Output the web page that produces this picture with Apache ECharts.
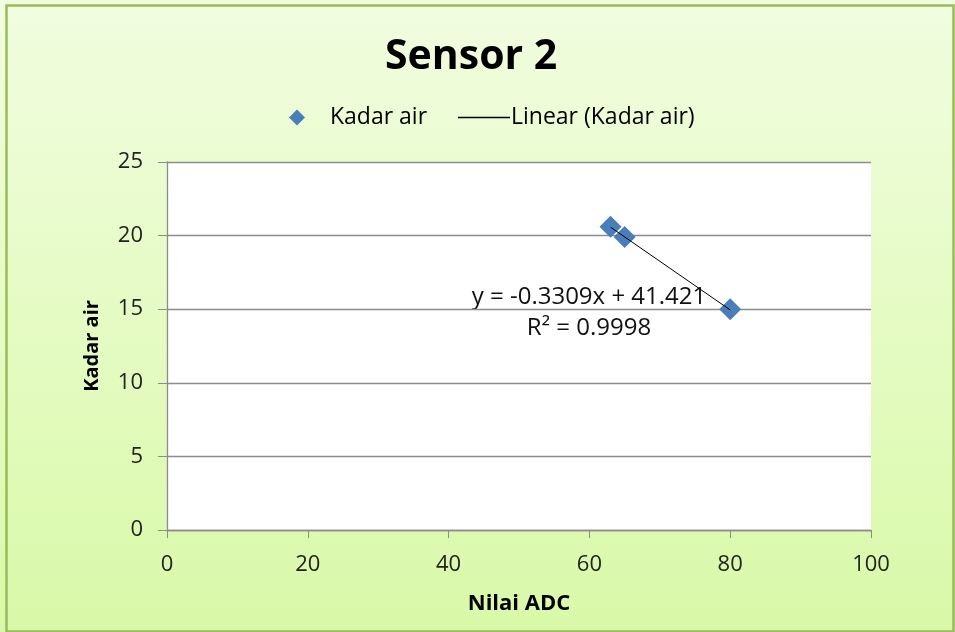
<!DOCTYPE html>
<html><head><meta charset="utf-8">
<script src="https://cdn.jsdelivr.net/npm/echarts@6/dist/echarts.min.js"></script>
<style>html,body{margin:0;padding:0;background:#fff}#c{width:955px;height:632px}</style>
</head><body><div id="c"></div>
<script>
const titleText = 'Sensor 2';
const seriesName = 'Kadar air';
const trendName = 'Linear (Kadar air)';
const xValues = [63, 65, 80];
const yValues = [20.6, 19.9, 15.0];
const trendSlope = -0.3309;
const trendIntercept = 41.421;
const rSquared = 0.9998;
const xTicks = [0, 20, 40, 60, 80, 100];
const yTicks = [0, 5, 10, 15, 20, 25];

const pts = xValues.map((x, i) => [x, yValues[i]]);
const xMin = Math.min(...xValues), xMax = Math.max(...xValues);
const trend = [[xMin, trendSlope * xMin + trendIntercept], [xMax, trendSlope * xMax + trendIntercept]];
const eqText = 'y = ' + trendSlope + 'x + ' + trendIntercept + '\nR² = ' + rSquared;

const chart = echarts.init(document.getElementById('c'));
const font = '"Open Sans", sans-serif';
chart.setOption({
  animation: false,
  backgroundColor: new echarts.graphic.LinearGradient(0, 0, 0, 1, [
    {offset: 0, color: '#f1fde0'}, {offset: 1, color: '#d9f9a8'}
  ]),
  title: {text: titleText, left: 385, top: 37, padding: 0,
    textStyle: {fontFamily: font, fontWeight: 'bold', fontSize: 41, color: '#000'}},
  legend: [
    {top: 106, left: 289, itemWidth: 16, itemHeight: 16, itemGap: 0, padding: 0,
      textStyle: {fontFamily: font, fontSize: 23, color: '#000', padding: [0, 0, 0, 20]},
      data: [{name: seriesName, icon: 'diamond'}]},
    {top: 106, left: 458, itemWidth: 52, itemHeight: 1.5, itemGap: 0, padding: 0,
      textStyle: {fontFamily: font, fontSize: 23, color: '#000', padding: [0, 0, 0, -4]},
      data: [{name: trendName, icon: 'rect'}]}
  ],
  grid: {left: 167, right: 84, top: 162, bottom: 102, show: true, backgroundColor: '#fff', borderWidth: 0},
  xAxis: {type: 'value', min: xTicks[0], max: xTicks[xTicks.length - 1], interval: 20,
    name: 'Nilai ADC', nameLocation: 'middle', nameGap: 63,
    nameTextStyle: {fontFamily: font, fontWeight: 'bold', fontSize: 22, color: '#000'},
    axisLine: {lineStyle: {color: '#8c8c8c', width: 1.3}},
    axisTick: {show: true, length: 8, lineStyle: {color: '#8c8c8c'}},
    axisLabel: {fontFamily: font, fontSize: 22, color: '#222', margin: 24},
    splitLine: {show: false}},
  yAxis: {type: 'value', min: yTicks[0], max: yTicks[yTicks.length - 1], interval: 5,
    name: 'Kadar air', nameLocation: 'middle', nameGap: 65, nameRotate: 90,
    nameTextStyle: {fontFamily: font, fontWeight: 'bold', fontSize: 20, color: '#000'},
    axisLine: {show: true, lineStyle: {color: '#8c8c8c', width: 1.3}},
    axisTick: {show: true, length: 9, lineStyle: {color: '#8c8c8c'}},
    axisLabel: {fontFamily: font, fontSize: 22, color: '#222', margin: 24},
    splitLine: {show: true, lineStyle: {color: '#8c8c8c', width: 1.3}}},
  series: [
    {name: seriesName, type: 'scatter', data: pts, symbol: 'diamond', symbolSize: [22, 22],
      itemStyle: {color: '#4a7ebb', opacity: 1}, z: 3},
    {name: trendName, type: 'line', data: trend, symbol: 'none', z: 4,
      lineStyle: {color: '#000', width: 1}, itemStyle: {color: '#000'}}
  ],
  graphic: [
    {type: 'rect', left: 4, top: 3, shape: {width: 947, height: 626},
      style: {fill: 'none', stroke: '#9bbb59', lineWidth: 2.5}, z: 100},
    {type: 'text', x: 589, y: 282,
      style: {text: eqText, align: 'center', textAlign: 'center', fontFamily: font, fontSize: 24, fill: '#111', lineHeight: 31}}
  ]
});
</script></body></html>
